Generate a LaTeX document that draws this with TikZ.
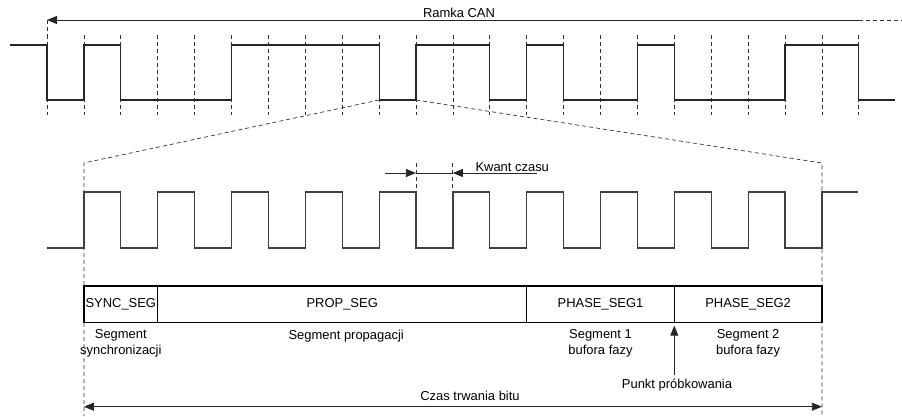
\documentclass[tikz,border=0pt]{standalone}
\usepackage{fontspec}
\setsansfont{Liberation Sans}
\usetikzlibrary{arrows.meta,positioning}

\begin{document}
\begin{tikzpicture}[x=1bp, y=-1bp, >={Triangle[length=10bp,width=8bp]},
	font=\sffamily\fontsize{13}{15.5}\selectfont,
	signal/.style={line width=1.2bp, black!85},
	grid/.style={dash pattern=on 4bp off 3bp, line width=0.7bp, black!80},
	strzalka/.style={line width=0.8bp, black!85},
	seg/.style={draw, line width=1.2bp, minimum height=36.6bp, outer sep=0pt, inner sep=0pt},
	opis/.style={align=center, inner sep=0pt}]
	
	\useasboundingbox (0,0) rectangle (902,416);
	
	% Ramka CAN - granice bitow
	\foreach \k in {0, ..., 22} {
		\coordinate (t\k) at (47+\k*36.9, 100);
		\draw[grid] (47+\k*36.9, 35) -- (47+\k*36.9, 115);
	}
	\coordinate (ramkaL) at (47,20);
	\coordinate (ramkaR) at (858.8,20);
	\coordinate (ramkaE) at (902,20);
	\draw[grid] (ramkaL) -- (47,35);
	\draw[->, strzalka] (ramkaR) -- (ramkaL);
	\draw[grid] (ramkaR) -- (ramkaE);
	\node[anchor=base] (ramka) at (459,17) {Ramka CAN};
	
	% Ramka CAN - przebieg
	\draw[signal] (10,45) \foreach \b [count=\i from 0] in {0,1,0,0,0,1,1,1,1,0,1,1,0,1,0,0,1,0,0,0,1,1,0} {
		-| (47+\i*36.9, {100-55*\b})
	} -- (895,100);
	
	% Powiekszenie jednego bitu
	\coordinate (zL) at (83.9,163);
	\coordinate (zR) at (821.9,163);
	\coordinate (zLd) at (83.9,416);
	\coordinate (zRd) at (821.9,416);
	\draw[grid] (t9) -- (zL) -- (zLd);
	\draw[grid] (t10) -- (zR) -- (zRd);
	
	% Kwanty czasu
	\draw[signal, black!75] (47,248) \foreach \k in {1,3,...,19} {
		-| (47+\k*36.9, 192) -| ({47+(\k+1)*36.9}, 248)
	} -| (47+21*36.9, 192) -- (858,192);
	
	% Kwant czasu
	\coordinate (q0) at (385,173);
	\coordinate (q1) at (415.9,173);
	\coordinate (q2) at (452.8,173);
	\coordinate (q3) at (537,173);
	\draw[grid] (415.9,163) -- (415.9,192);
	\draw[grid] (452.8,163) -- (452.8,192);
	\draw[->, strzalka] (q0) -- (q1);
	\draw[strzalka] (q1) -- (q2);
	\draw[<-, strzalka] (q2) -- (q3);
	\node[anchor=base west] (kwant) at (472,171.5) {Kwant czasu};
	
	% Segmenty bitu
	\node[seg, minimum width=73.8bp, anchor=north west] (sync) at (83.9,286) {SYNC\_SEG};
	\node[seg, minimum width=369bp, right=0pt of sync] (prop) {PROP\_SEG};
	\node[seg, minimum width=147.6bp, right=0pt of prop] (faza1) {PHASE\_SEG1};
	\node[seg, minimum width=147.6bp, right=0pt of faza1] (faza2) {PHASE\_SEG2};
	
	\node[opis, below=7bp of sync] (opsync) {Segment\\synchronizacji};
	\node[opis, below=7bp of prop, xshift=4bp] (opprop) {Segment propagacji};
	\node[opis, below=7bp of faza1] (opfaza1) {Segment 1\\bufora fazy};
	\node[opis, below=7bp of faza2] (opfaza2) {Segment 2\\bufora fazy};
	
	% Punkt probkowania
	\node[anchor=base] (punkt) at (677,388) {Punkt próbkowania};
	\draw[->, strzalka, shorten >=3bp] (punkt.north -| faza2.south west) -- (faza2.south west);
	
	% Czas trwania bitu
	\coordinate (bitL) at (83.9,406.7);
	\coordinate (bitR) at (821.9,406.7);
	\draw[<->, strzalka] (bitL) -- (bitR);
	\node[anchor=base] (czas) at (470,400) {Czas trwania bitu};
\end{tikzpicture}
\end{document}
